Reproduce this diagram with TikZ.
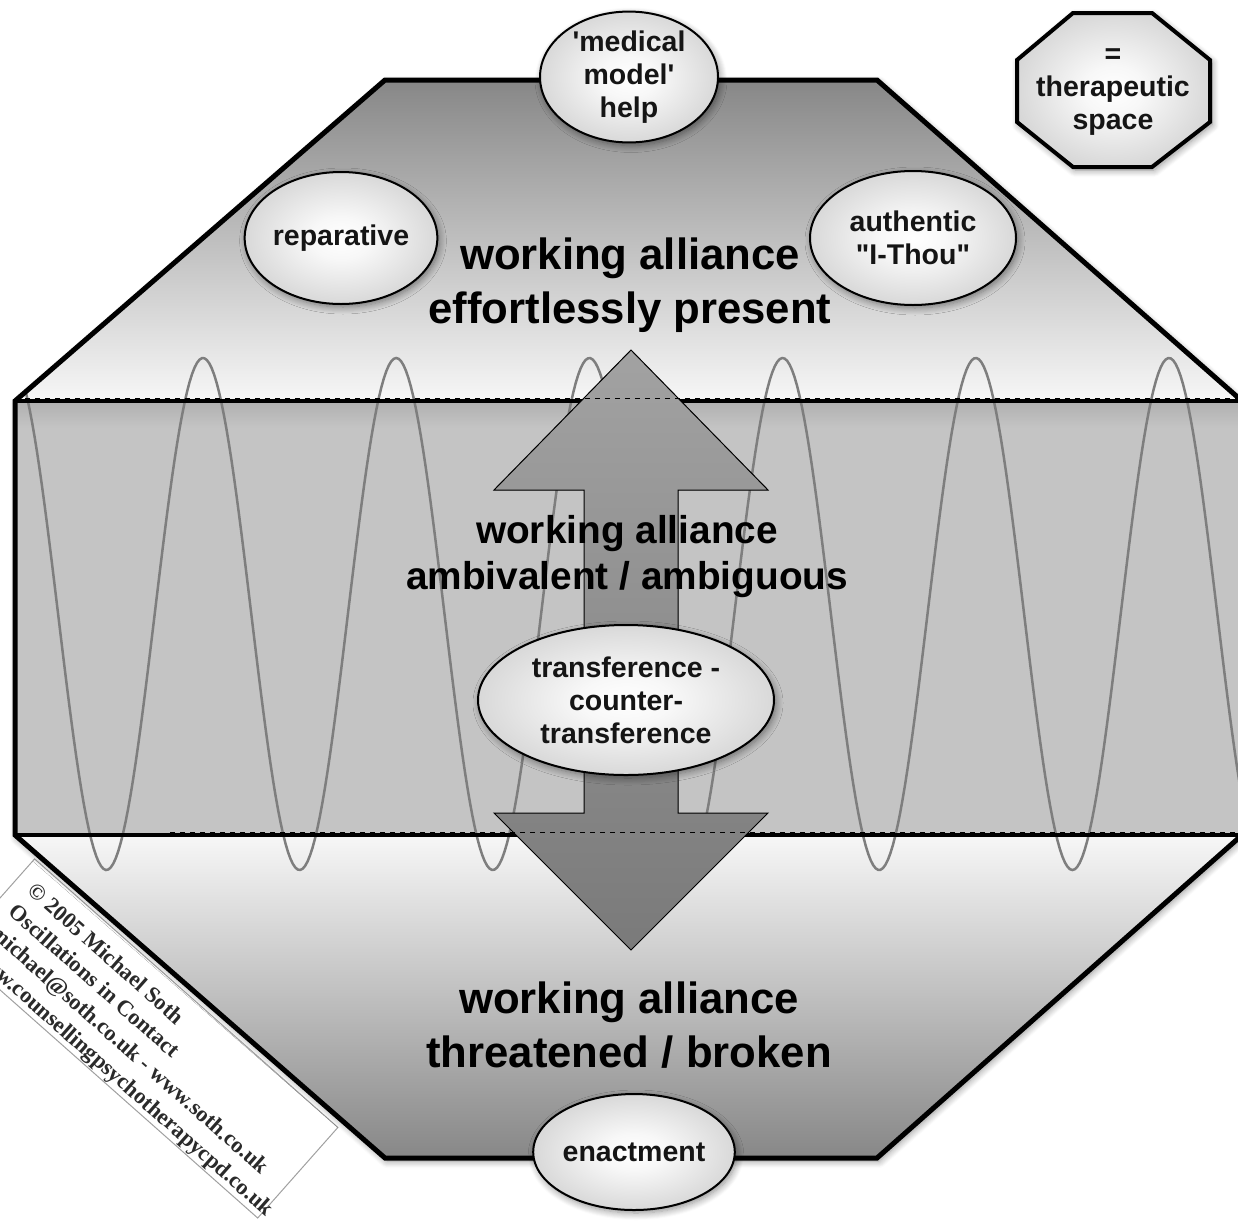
\documentclass[tikz,border=0pt]{standalone}
\usepackage{fontspec}
\setmainfont{Liberation Sans}
% same family without the TeX quote mapping, so ' and " stay straight
\newfontfamily\plainsans{Liberation Sans}
\newfontfamily\serifcredit{Liberation Serif}
\usetikzlibrary{shapes.geometric,shadows.blur}

\definecolor{capdark}{HTML}{878787}
\definecolor{caplight}{HTML}{F7F7F7}
\definecolor{bandmid}{HTML}{C4C4C4}
\definecolor{bandedge}{HTML}{B0B0B0}
\definecolor{wavegray}{HTML}{7E7E7E}
\definecolor{bubbleedge}{HTML}{ABABAB}
\definecolor{arrowtop}{HTML}{A2A2A2}
\definecolor{arrowmid}{HTML}{4E4E4E}
\definecolor{arrowbot}{HTML}{7A7A7A}
\definecolor{textdark}{HTML}{151515}
\definecolor{creditink}{HTML}{2A2A2A}
\definecolor{creditframe}{HTML}{A0A0A0}

% soft glow from a white centre to grey at the rim
\pgfdeclareradialshading{bubblefill}{\pgfpointorigin}{%
  color(0bp)=(white); color(8bp)=(white!97!black); color(50bp)=(bubbleedge)}

\begin{document}
\begin{tikzpicture}[x=1pt,y=-1pt,
  softshadow/.style={blur shadow={shadow xshift=2pt, shadow yshift=-3pt,
      shadow blur radius=7pt, shadow blur steps=8, shadow opacity=45}},
  bubble/.style={ellipse, draw=black, line width=2pt, inner sep=0pt,
      shading=bubblefill, align=center, softshadow,
      font=\plainsans\fontsize{28.5}{33}\selectfont\bfseries, text=textdark},
  headline/.style={align=center, inner sep=0pt, text=black},
  bigline/.style={headline, font=\fontsize{43.7}{54}\selectfont\bfseries},
  midline/.style={headline, font=\fontsize{38.8}{46}\selectfont\bfseries},
  credit/.style={anchor=base west, rotate=-41.5, inner sep=0pt,
      font=\serifcredit\bfseries\fontsize{22.5}{26}\selectfont, text=creditink},
  divider/.style={line width=3.5pt, black},
  seam/.style={line width=1.2pt, black, dash pattern=on 5pt off 5pt},
  wave/.style={line width=2.5pt, wavegray},
]
\useasboundingbox (0,0) rectangle (1238,1221);
\clip (0,0) rectangle (1238,1221);

% corners of the large octagon
\coordinate (o1) at (385,80);
\coordinate (o2) at (877,80);
\coordinate (o3) at (1242,401);
\coordinate (o4) at (1242,835);
\coordinate (o5) at (877,1158);
\coordinate (o6) at (385,1158);
\coordinate (o7) at (15,835);
\coordinate (o8) at (15,401);

% copyright card, tucked under the lower left edge
\coordinate (c1) at (34.6,858.9);
\coordinate (c2) at (337.9,1127.4);
\coordinate (c3) at (257.7,1218);
\coordinate (c4) at (-45.6,949.5);
\filldraw[fill=white, draw=creditframe, line width=1pt] (c1) -- (c2) -- (c3) -- (c4) -- cycle;
\node[credit] (cr1) at (26.3,892.7) {\textcopyright{} 2005 Michael Soth};
\node[credit] (cr2) at (7.7,913.7) {Oscillations in Contact};
\node[credit] (cr3) at (-10.8,934.6) {michael@soth.co.uk - www.soth.co.uk};
\node[credit] (cr4) at (-29.4,955.6) {www.counsellingpsychotherapycpd.co.uk};

% octagon body: shadow, then the three horizontal bands
\path[fill=white, softshadow] (o1) -- (o2) -- (o3) -- (o4) -- (o5) -- (o6) -- (o7) -- (o8) -- cycle;
\path[top color=capdark, bottom color=caplight] (o1) -- (o2) -- (o3) -- (o8) -- cycle;
\fill[bandmid] (o8) rectangle (o4);
\path[top color=bandedge, bottom color=bandmid] (15,401) rectangle (1242,428);
\path[top color=caplight, bottom color=capdark] (o7) -- (o4) -- (o5) -- (o6) -- cycle;

% oscillation (period 193.2, crest at x = 203)
\begin{scope}
  \clip (o1) -- (o2) -- (o3) -- (o4) -- (o5) -- (o6) -- (o7) -- (o8) -- cycle;
  \draw[wave] plot[domain=15:1242, samples=500] (\x, {614-256*cos(1.86335*(\x-203))});
\end{scope}

% band boundaries
\draw[divider] (o8) -- (o3);
\draw[divider] (o7) -- (o4);

% double arrow through the middle band
\coordinate (a1) at (631,350);
\coordinate (a2) at (768,490);
\coordinate (a3) at (678,490);
\coordinate (a4) at (678,813);
\coordinate (a5) at (768,813);
\coordinate (a6) at (631,950);
\coordinate (a7) at (494,813);
\coordinate (a8) at (584,813);
\coordinate (a9) at (584,490);
\coordinate (a10) at (494,490);
\filldraw[draw=black, line width=1pt, top color=arrowtop, middle color=arrowmid, bottom color=arrowbot]
  (a1) -- (a2) -- (a3) -- (a4) -- (a5) -- (a6) -- (a7) -- (a8) -- (a9) -- (a10) -- cycle;

% dashed seams over the boundaries
\draw[seam] (15,398.5) -- (1238,398.5);
\draw[seam] (170,832.5) -- (1238,832.5);

% octagon outline
\draw[line width=5pt, line join=miter] (o1) -- (o2) -- (o3) -- (o4) -- (o5) -- (o6) -- (o7) -- (o8) -- cycle;

% headlines
\node[bigline] (present) at (630,285) {working alliance\\effortlessly present};
\node[midline] (ambiv) at (627,557) {working alliance\\ambivalent / ambiguous};
\node[bigline] (broken) at (629,1025) {working alliance\\threatened / broken};

% bubbles
\node[bubble, minimum width=178pt, minimum height=126pt] (medical) at (629,77) {'medical\\model'\\help};
\node[bubble, minimum width=192pt, minimum height=132pt] (reparative) at (341,238) {reparative};
\node[bubble, minimum width=206pt, minimum height=134pt] (ithou) at (913,238) {authentic\\"I-Thou"};
\node[bubble, minimum width=296pt, minimum height=150pt] (transf) at (626,700) {transference -\\counter-\\transference};
\node[bubble, minimum width=194pt, minimum height=116pt] (enact) at (634,1152) {enactment};

% key: the octagon stands for the therapeutic space
\filldraw[draw=black, line width=4pt, shading=bubblefill, softshadow]
  (1073,13) -- (1152,13) -- (1210,60) -- (1210,122) -- (1152,167) -- (1073,167) -- (1017,122) -- (1017,60) -- cycle;
\node[align=center, inner sep=0pt, text=textdark, font=\fontsize{28.5}{33}\selectfont\bfseries] (legend) at (1113,92) {=\\therapeutic\\space};
\end{tikzpicture}
\end{document}
